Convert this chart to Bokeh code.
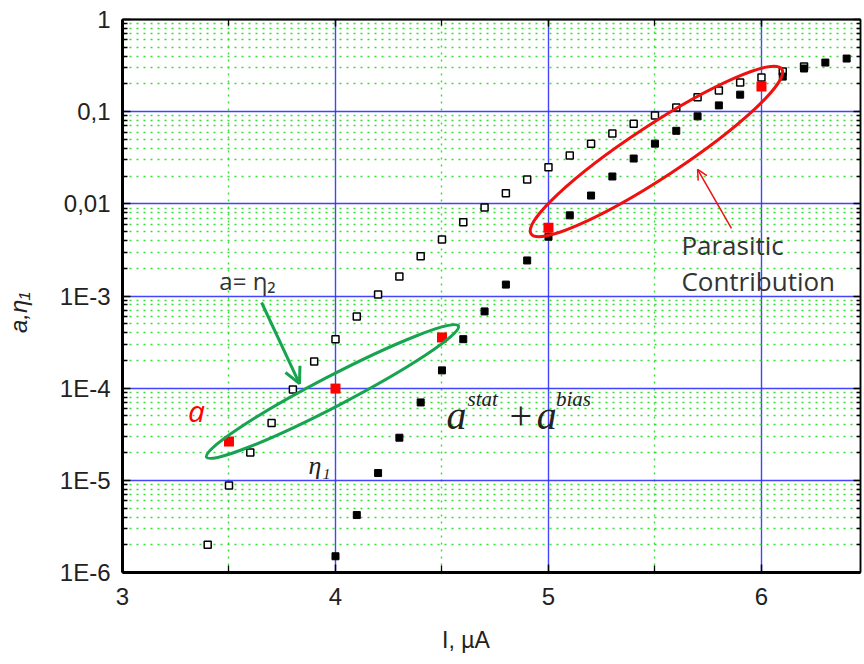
import math
from bokeh.plotting import figure
from bokeh.models import (LogAxis, LinearAxis, FixedTicker, CustomJSTickFormatter,
                          Label, Arrow, OpenHead, Range1d)
from bokeh.embed import file_html
from bokeh.resources import INLINE

# ---------------- data ----------------
eta2_x = [3.4, 3.5, 3.6, 3.7, 3.8, 3.9, 4.0, 4.1, 4.2, 4.3, 4.4, 4.5, 4.6, 4.7,
          4.8, 4.9, 5.0, 5.1, 5.2, 5.3, 5.4, 5.5, 5.6, 5.7, 5.8, 5.9, 6.0, 6.1, 6.2]
eta2_y = [2.0e-6, 8.8e-6, 2.0e-5, 4.2e-5, 9.7e-5, 1.95e-4, 3.4e-4, 6.0e-4, 1.04e-3,
          1.63e-3, 2.7e-3, 4.1e-3, 6.3e-3, 9.1e-3, 1.3e-2, 1.84e-2, 2.5e-2, 3.35e-2,
          4.5e-2, 5.8e-2, 7.4e-2, 9.1e-2, 0.111, 0.143, 0.170, 0.207, 0.235, 0.273, 0.309]

eta1_x = [4.0, 4.1, 4.2, 4.3, 4.4, 4.5, 4.6, 4.7, 4.8, 4.9, 5.0, 5.1, 5.2, 5.3,
          5.4, 5.5, 5.6, 5.7, 5.8, 5.9, 6.0, 6.1, 6.2, 6.3, 6.4]
eta1_y = [1.5e-6, 4.2e-6, 1.2e-5, 2.9e-5, 7.0e-5, 1.56e-4, 3.4e-4, 6.8e-4, 1.33e-3,
          2.43e-3, 4.4e-3, 7.5e-3, 1.23e-2, 1.98e-2, 3.1e-2, 4.5e-2, 6.2e-2, 8.9e-2,
          0.117, 0.153, 0.19, 0.24, 0.294, 0.341, 0.377]

a_x = [3.5, 4.0, 4.5, 5.0, 6.0]
a_y = [2.64e-5, 9.9e-5, 3.55e-4, 5.5e-3, 0.1875]

x_ticks = [3, 4, 5, 6]
x_tick_labels = ["3", "4", "5", "6"]
x_minor_ticks = [3.5, 4.5, 5.5]

y_tick_exponents = [-6, -5, -4, -3, -2, -1, 0]
y_tick_labels = ["1E-6", "1E-5", "1E-4", "1E-3", "0,01", "0,1", "1"]
y_ticks = [10.0 ** e for e in y_tick_exponents]
y_minor_ticks = [m * 10.0 ** e for e in y_tick_exponents[:-1] for m in range(2, 10)]

x_title = "I, µA"
y_title = "a,η₁"

# ---------------- styles ----------------
TICK_FONT = "Liberation Sans"
SANS = "Open Sans"
SERIF = "Liberation Serif"
GREEN = "#17a350"
RED = "#f01010"
GRID_BLUE = "#3030ff"
GRID_GREEN = "#30e030"
NBSP = "\u00a0"

p = figure(width=862, height=662, y_axis_type="log",
           x_range=Range1d(3, 6.465), y_range=Range1d(1e-6, 1),
           output_backend="svg", toolbar_location=None,
           min_border_left=122, min_border_right=2, min_border_top=19, min_border_bottom=90)
p.background_fill_color = "white"
p.border_fill_color = "white"
p.outline_line_color = "black"
p.outline_line_width = 1.5

xticker = FixedTicker(ticks=x_ticks, minor_ticks=x_minor_ticks)
yticker = FixedTicker(ticks=y_ticks, minor_ticks=y_minor_ticks)

xfmt = CustomJSTickFormatter(args=dict(xt=x_ticks, xl=x_tick_labels), code="""
const i = xt.findIndex(t => Math.abs(t - tick) < 1e-9);
return i >= 0 ? xl[i] : "";
""")
yfmt = CustomJSTickFormatter(args=dict(ye=y_tick_exponents, yl=y_tick_labels), code="""
const e = Math.round(Math.log10(tick));
const i = ye.indexOf(e);
return i >= 0 ? yl[i] : "";
""")
blank = CustomJSTickFormatter(code="return '';")
blank2 = CustomJSTickFormatter(code="return '';")

def style_axis(ax, major_in, minor_in, width):
    ax.axis_line_color = "black"
    ax.axis_line_width = width
    ax.major_tick_in = major_in
    ax.major_tick_out = 0
    ax.minor_tick_in = minor_in
    ax.minor_tick_out = 0
    ax.major_tick_line_color = "black"
    ax.minor_tick_line_color = "black"
    ax.major_tick_line_width = 1.5
    ax.minor_tick_line_width = 1.3
    ax.major_label_text_font = TICK_FONT
    ax.major_label_text_font_size = "24px"
    ax.major_label_text_color = "#222222"

xa = p.xaxis[0]
xa.ticker = xticker
xa.formatter = xfmt
style_axis(xa, 8, 7, 3)
xa.major_label_standoff = 15
# trailing no-break spaces move the centred title to the left, as in the reference
xa.axis_label = x_title + NBSP * 8
xa.axis_label_text_font = TICK_FONT
xa.axis_label_text_font_size = "23px"
xa.axis_label_text_font_style = "normal"
xa.axis_label_text_color = "#222222"
xa.axis_label_standoff = 19

ya = p.yaxis[0]
ya.ticker = yticker
ya.formatter = yfmt
style_axis(ya, 8, 5, 3)
ya.major_label_standoff = 12
ya.axis_label = y_title + NBSP * 5
ya.axis_label_text_font = TICK_FONT
ya.axis_label_text_font_size = "24px"
ya.axis_label_text_font_style = "italic"
ya.axis_label_text_color = "#222222"
ya.axis_label_standoff = 25

top = LinearAxis(ticker=xticker, formatter=blank)
style_axis(top, 7, 6, 2)
top.major_label_standoff = 0
p.add_layout(top, "above")

right = LogAxis(ticker=yticker, formatter=blank2)
style_axis(right, 7, 4, 1.5)
right.major_label_standoff = 0
p.add_layout(right, "right")

for g in (p.xgrid[0], p.ygrid[0]):
    g.grid_line_color = GRID_BLUE
    g.grid_line_width = 1.4
    g.grid_line_alpha = 0.9
    g.minor_grid_line_color = GRID_GREEN
    g.minor_grid_line_width = 1.4
    g.minor_grid_line_dash = "2 5"

# ---------------- data marks ----------------
p.scatter(eta2_x, eta2_y, marker="square", size=7, fill_color="white",
          line_color="black", line_width=1.5)
p.scatter(eta1_x, eta1_y, marker="square", size=7, fill_color="black",
          line_color="black")
p.scatter(a_x, a_y, marker="square", size=10, fill_color="#ff0000", line_color=None)

# ---------------- annotations ----------------
p.ellipse(x=[3.986], y=[9.2e-5], width=[284], height=[30], angle=[math.radians(27.5)],
          width_units="screen", height_units="screen",
          fill_color=None, line_color=GREEN, line_width=3)
p.ellipse(x=[5.507], y=[0.037], width=[300], height=[52], angle=[math.radians(33.3)],
          width_units="screen", height_units="screen",
          fill_color=None, line_color=RED, line_width=3)

p.add_layout(Arrow(end=OpenHead(size=16, line_color=GREEN, line_width=3),
                   x_start=3.653, y_start=8.5e-4, x_end=3.831, y_end=1.12e-4,
                   line_color=GREEN, line_width=3))
p.add_layout(Arrow(end=OpenHead(size=10, line_color=RED, line_width=1.5),
                   x_start=5.859, y_start=5.4e-3, x_end=5.700, y_end=0.0236,
                   line_color=RED, line_width=1.5))

def lab(x, y, text, font=SANS, size="22px", style="normal", color="#333333",
        align="left", baseline="middle", angle=0.0):
    p.add_layout(Label(x=x, y=y, text=text, text_font=font, text_font_size=size,
                       text_font_style=style, text_color=color, text_align=align,
                       text_baseline=baseline, angle=angle))

lab(3.587, 1.47e-3, "a= η₂", align="center", size="24px")
lab(3.347, 5.73e-5, "a", style="italic", color="#ff0000", align="center", size="30px")
lab(3.925, 1.45e-5, "η₁", font=SERIF, style="italic", align="center", size="26px", color="#222222")

lab(4.521, 5.05e-5, "a", font=SERIF, style="italic", size="40px", color="#222222")
lab(4.620, 7.6e-5, "stat", font=SERIF, style="italic", size="21px", color="#222222")
lab(4.817, 5.05e-5, "+", font=SERIF, size="40px", color="#222222")
lab(4.945, 5.05e-5, "a", font=SERIF, style="italic", size="40px", color="#222222")
lab(5.035, 7.6e-5, "bias", font=SERIF, style="italic", size="21px", color="#222222")

lab(5.624, 3.62e-3, "Parasitic", size="26px")
lab(5.624, 1.47e-3, "Contribution", size="26px")

open("out.html", "w").write(file_html(p, INLINE))
